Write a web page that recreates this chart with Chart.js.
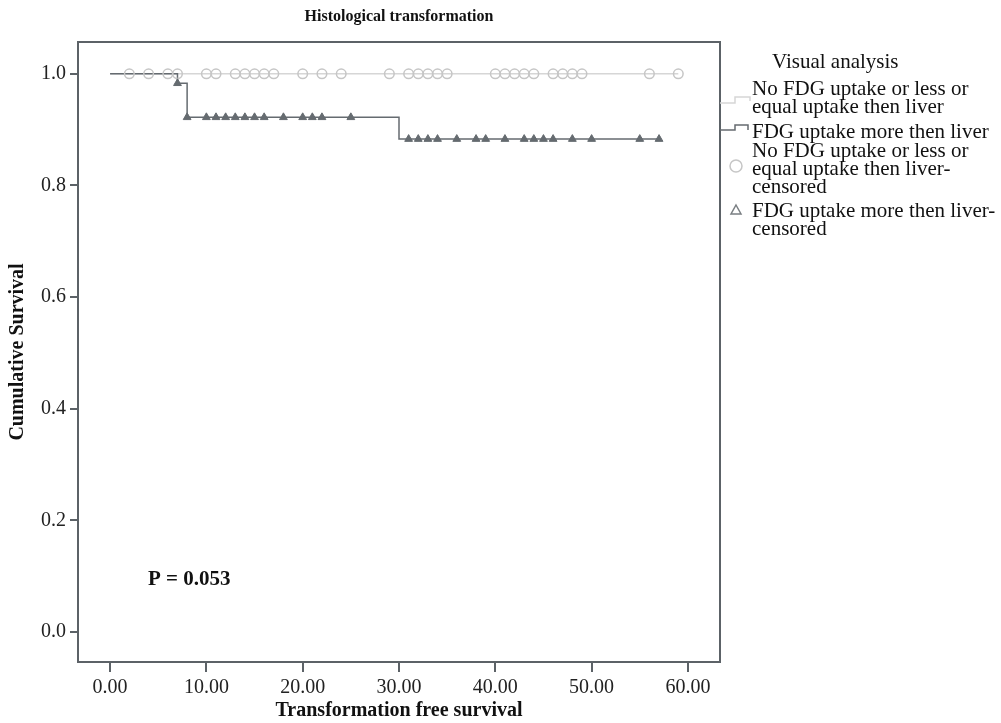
<!DOCTYPE html>
<html>
<head>
<meta charset="utf-8">
<script src="https://cdn.jsdelivr.net/npm/chart.js@4/dist/chart.umd.min.js"></script>
<style>
  html, body { margin: 0; padding: 0; background: #fff; }
  canvas { display: block; }
</style>
</head>
<body>
<canvas id="kmChart" width="1001" height="723"></canvas>
<script>
// axis ticks
const xTicks = [0, 10, 20, 30, 40, 50, 60];
const yTicks = [0, 0.2, 0.4, 0.6, 0.8, 1.0];

// Kaplan-Meier steps, FDG uptake more then liver
const fdgTimes = [0, 7, 8, 30, 57];
const fdgSurvival = [1.0, 0.983, 0.922, 0.883, 0.883];

// No FDG uptake or less or equal uptake then liver (no events)
const noFdgTimes = [0, 59];
const noFdgSurvival = [1.0, 1.0];

// censored cases (time)
const noFdgCensored = [2, 4, 6, 7, 10, 11, 13, 14, 15, 16, 17, 20, 22, 24, 29, 31, 32, 33, 34, 35,
  40, 41, 42, 43, 44, 46, 47, 48, 49, 56, 59];
const fdgCensored = [7, 8, 10, 11, 12, 13, 14, 15, 16, 18, 20, 21, 22, 25, 31, 32, 33, 34, 36, 38,
  39, 41, 43, 44, 45, 46, 48, 50, 55, 57];

const legendLines = [
  'No FDG uptake or less or', 'equal uptake then liver',
  'FDG uptake more then liver',
  'No FDG uptake or less or', 'equal uptake then liver-', 'censored',
  'FDG uptake more then liver-', 'censored'
];

const serif = '"Liberation Serif", "Times New Roman", serif';
const frameColor = '#5c6267';
const lightLine = '#d6d6d6';
const lightMark = '#c6c6c6';
const darkGray = '#656b70';

// survival level at time t (after events at t)
function survivalAt(times, surv, t) {
  let s = surv[0];
  for (let i = 0; i < times.length; i++) {
    if (times[i] <= t) s = surv[i];
  }
  return s;
}

function toPoints(times, values) {
  return times.map((t, i) => ({ x: t, y: values[i] }));
}

const decorPlugin = {
  id: 'kmDecor',
  afterDraw(chart) {
    const c = chart.ctx;
    const a = chart.chartArea;
    c.save();

    // frame
    c.strokeStyle = frameColor;
    c.lineWidth = 2;
    c.strokeRect(a.left, a.top, a.right - a.left, a.bottom - a.top);

    // title
    c.fillStyle = '#111';
    c.font = 'bold 16px ' + serif;
    c.textAlign = 'center';
    c.textBaseline = 'middle';
    c.fillText('Histological transformation', (a.left + a.right) / 2, 17);

    // p-value
    c.font = 'bold 21px ' + serif;
    c.textAlign = 'left';
    c.fillText('P = 0.053', 148, 580);

    // legend
    c.font = '21px ' + serif;
    c.fillText('Visual analysis', 772, 62);
    const ys = [89, 107, 132, 151, 169, 187, 211, 229];
    legendLines.forEach((txt, i) => c.fillText(txt, 752, ys[i]));

    c.lineWidth = 1.5;
    c.strokeStyle = lightLine;
    c.beginPath();
    c.moveTo(720, 103); c.lineTo(735, 103); c.lineTo(735, 97); c.lineTo(750, 97); c.lineTo(750, 101);
    c.stroke();

    c.strokeStyle = darkGray;
    c.beginPath();
    c.moveTo(720, 130); c.lineTo(735, 130); c.lineTo(735, 125); c.lineTo(748, 125); c.lineTo(748, 130);
    c.stroke();

    c.strokeStyle = lightMark;
    c.beginPath();
    c.arc(736, 166, 6, 0, Math.PI * 2);
    c.stroke();

    c.strokeStyle = '#7a7f83';
    c.beginPath();
    c.moveTo(736, 205); c.lineTo(741, 214); c.lineTo(731, 214); c.closePath();
    c.stroke();

    c.restore();
  }
};

const ctx = document.getElementById('kmChart').getContext('2d');
const kmChart = new Chart(ctx, {
  type: 'line',
  data: {
    datasets: [
      {
        type: 'scatter',
        data: fdgCensored.map(t => ({ x: t, y: survivalAt(fdgTimes, fdgSurvival, t) })),
        pointStyle: 'triangle',
        pointRadius: 4.5,
        backgroundColor: darkGray,
        borderColor: darkGray,
        borderWidth: 1,
        showLine: false,
        order: 0
      },
      {
        type: 'scatter',
        data: noFdgCensored.map(t => ({ x: t, y: survivalAt(noFdgTimes, noFdgSurvival, t) })),
        pointStyle: 'circle',
        pointRadius: 4.8,
        backgroundColor: 'rgba(255,255,255,0)',
        borderColor: lightMark,
        borderWidth: 1.5,
        showLine: false,
        order: 1
      },
      {
        data: toPoints(fdgTimes, fdgSurvival),
        stepped: 'before',
        borderColor: darkGray,
        borderWidth: 1.5,
        pointRadius: 0,
        fill: false,
        order: 2
      },
      {
        data: toPoints(noFdgTimes, noFdgSurvival),
        stepped: 'before',
        borderColor: lightLine,
        borderWidth: 1.5,
        pointRadius: 0,
        fill: false,
        order: 3
      }
    ]
  },
  options: {
    responsive: false,
    animation: false,
    devicePixelRatio: 1,
    layout: { padding: { top: 42, right: 281, left: 0, bottom: 0 } },
    plugins: {
      legend: { display: false },
      tooltip: { enabled: false },
      title: { display: false }
    },
    scales: {
      x: {
        type: 'linear',
        min: -3.33,
        max: 63.33,
        afterBuildTicks: scale => { scale.ticks = xTicks.map(v => ({ value: v })); },
        afterFit: scale => { scale.height = 61; },
        ticks: {
          callback: v => Number(v).toFixed(2),
          font: { family: serif, size: 20 },
          color: '#222',
          padding: 4,
          maxRotation: 0,
          autoSkip: false
        },
        grid: { drawOnChartArea: false, drawTicks: true, tickLength: 10, color: frameColor, lineWidth: 2 },
        border: { display: false },
        title: {
          display: true,
          text: 'Transformation free survival',
          font: { family: serif, size: 20, weight: 'bold' },
          color: '#111',
          padding: { top: 0, bottom: 0 }
        }
      },
      y: {
        type: 'linear',
        min: -0.054,
        max: 1.057,
        afterBuildTicks: scale => { scale.ticks = yTicks.map(v => ({ value: v })); },
        afterFit: scale => { scale.width = 78; },
        ticks: {
          callback: v => Number(v).toFixed(1),
          font: { family: serif, size: 20 },
          color: '#222',
          padding: 4
        },
        grid: { drawOnChartArea: false, drawTicks: true, tickLength: 8, color: frameColor, lineWidth: 2 },
        border: { display: false },
        title: {
          display: true,
          text: 'Cumulative Survival',
          font: { family: serif, size: 20, weight: 'bold' },
          color: '#111',
          padding: { top: 6, bottom: 0 }
        }
      }
    }
  },
  plugins: [decorPlugin]
});
</script>
</body>
</html>
